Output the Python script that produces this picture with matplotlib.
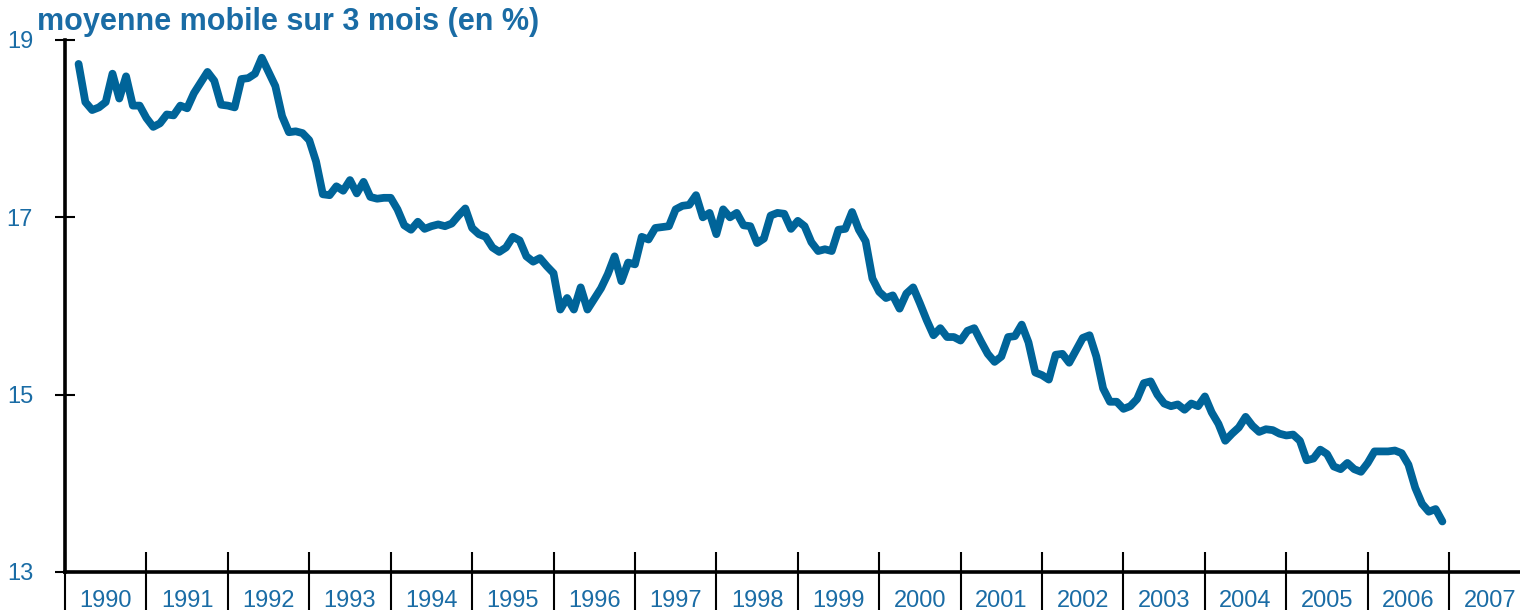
import matplotlib.pyplot as plt
import numpy as np

# police proche d'Arial
plt.rcParams['font.family'] = ['Liberation Sans', 'DejaVu Sans']

# moyenne mobile sur 3 mois, de mars 1990 à décembre 2006 (en %)
first_year = 1990
first_month = 3
values = [
    # 1990 - 1994
    18.73, 18.30, 18.21, 18.24, 18.30, 18.62, 18.34, 18.59, 18.26, 18.26,
    18.12, 18.02, 18.06, 18.16, 18.15, 18.26, 18.23, 18.40, 18.52, 18.64,
    18.54, 18.27, 18.26, 18.24, 18.56, 18.57, 18.62, 18.80, 18.64, 18.48,
    18.14, 17.96, 17.97, 17.95, 17.87, 17.63, 17.26, 17.25, 17.35, 17.30,
    17.42, 17.27, 17.40, 17.23, 17.21, 17.22, 17.22, 17.09, 16.91, 16.86,
    16.95, 16.87, 16.90, 16.92, 16.90, 16.93, 17.02, 17.10, 16.88, 16.81,
    # 1995 - 1999
    16.78, 16.66, 16.61, 16.66, 16.78, 16.74, 16.56, 16.50, 16.54, 16.45,
    16.37, 15.96, 16.09, 15.96, 16.21, 15.96, 16.08, 16.20, 16.36, 16.56,
    16.28, 16.49, 16.47, 16.78, 16.75, 16.88, 16.89, 16.90, 17.09, 17.13,
    17.14, 17.25, 17.00, 17.05, 16.81, 17.09, 17.00, 17.05, 16.91, 16.90,
    16.71, 16.76, 17.02, 17.05, 17.04, 16.87, 16.96, 16.90, 16.72, 16.62,
    16.64, 16.62, 16.86, 16.87, 17.06, 16.86, 16.73, 16.31, 16.16, 16.09,
    # 2000 - 2003
    16.12, 15.97, 16.14, 16.21, 16.03, 15.84, 15.67, 15.75, 15.65, 15.65,
    15.61, 15.72, 15.75, 15.60, 15.46, 15.37, 15.43, 15.65, 15.66, 15.79,
    15.59, 15.25, 15.22, 15.17, 15.45, 15.46, 15.36, 15.50, 15.64, 15.67,
    15.43, 15.07, 14.92, 14.92, 14.84, 14.87, 14.95, 15.13, 15.15, 15.00,
    14.90, 14.87, 14.89,
    # 2003 - 2006
    14.83, 14.90, 14.87, 14.98, 14.80, 14.67, 14.48, 14.56, 14.63, 14.75,
    14.65, 14.58, 14.61, 14.60, 14.56, 14.54, 14.55, 14.48, 14.26, 14.28,
    14.38, 14.33, 14.19, 14.16, 14.23, 14.16, 14.13, 14.23, 14.36, 14.36,
    14.36, 14.37, 14.34, 14.21, 13.95, 13.77, 13.68, 13.71, 13.57,
]
years = list(range(1990, 2008))
y_ticks = [13, 15, 17, 19]

line_color = '#006499'
text_color = '#1a6ca5'

# position de chaque mois en années décimales
x = first_year + (first_month - 1 + np.arange(len(values))) / 12

fig = plt.figure(figsize=(15.2, 6.1), dpi=100)
ax = fig.add_axes([65 / 1520, 38 / 610, 1 - 65 / 1520, 532 / 610])

ax.plot(x, values, color=line_color, linewidth=5.6, solid_joinstyle='round',
        solid_capstyle='round', clip_on=False)

ax.set_xlim(1990, 2007.87)
ax.set_ylim(13, 19)

# axes
for side in ['top', 'right']:
    ax.spines[side].set_visible(False)
for side in ['left', 'bottom']:
    ax.spines[side].set_linewidth(2.6)
    ax.spines[side].set_color('black')

# graduations verticales
ax.set_yticks(y_ticks)
ax.set_yticklabels([str(v) for v in y_ticks])
ax.tick_params(axis='y', direction='inout', length=14, width=1.5,
               pad=16, labelsize=17, labelcolor=text_color)

# séparateurs des années et libellés centrés
ax.set_xticks([])
ax.vlines(years, -0.075, 0.038, transform=ax.get_xaxis_transform(),
          color='black', linewidth=1.5, clip_on=False)
for yr in years:
    ax.text(yr + 0.5, -0.054, str(yr), transform=ax.get_xaxis_transform(),
            ha='center', va='center', fontsize=17, color=text_color)

# titre en haut à gauche
fig.text(37 / 1520, 1 - 22 / 610, 'moyenne mobile sur 3 mois (en %)',
         ha='left', va='center', fontsize=22, fontweight='bold', color=text_color)

fig.savefig('out.png', dpi=100)
